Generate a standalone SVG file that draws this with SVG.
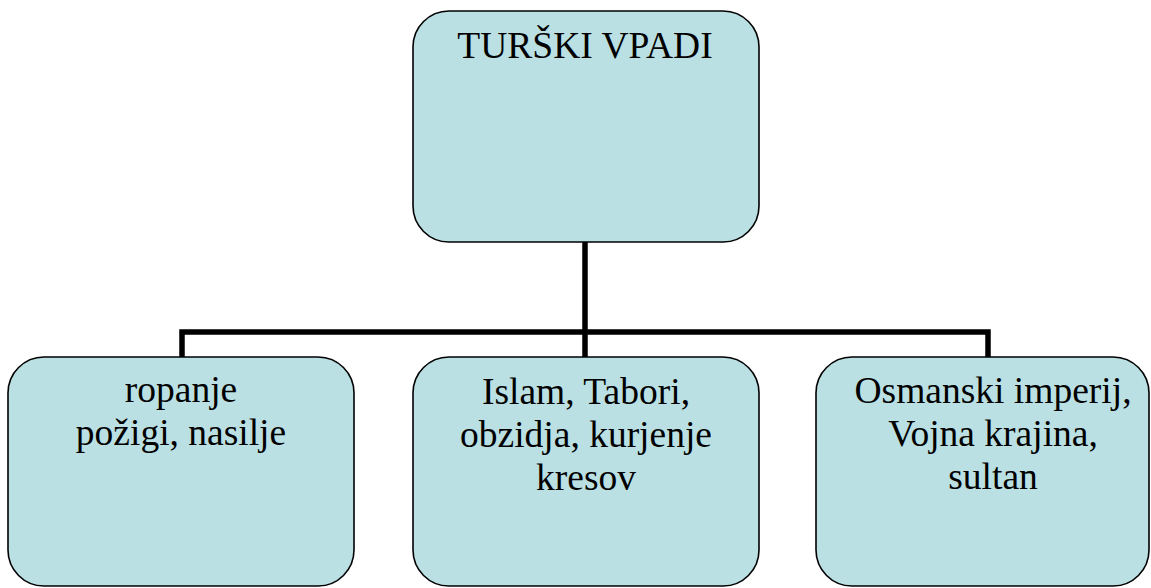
<svg xmlns="http://www.w3.org/2000/svg" width="1151" height="588" viewBox="0 0 1151 588">
<style>
.box{fill:#BAE0E3;stroke:#000;stroke-width:1.6}
.t{font-family:'Liberation Serif','Times New Roman',serif;font-size:37.5px;fill:#000;text-anchor:middle}
.c{fill:none;stroke:#000;stroke-width:5.5;stroke-linejoin:miter}
</style>
<rect width="1151" height="588" fill="#fff"/>
<g id="connectors">
<path class="c" d="M585,242 V357"/>
<path class="c" d="M182,357 V332 H988 V357"/>
</g>
<g id="root">
<rect class="box" x="413" y="11" width="346" height="231" rx="36" ry="36"/>
<text class="t" x="585" y="58">TURŠKI VPADI</text>
</g>
<g id="n1">
<rect class="box" x="8" y="357" width="346" height="229" rx="36" ry="36"/>
<text class="t" x="181" y="402">ropanje</text>
<text class="t" x="181" y="445">požigi, nasilje</text>
</g>
<g id="n2">
<rect class="box" x="413" y="357" width="346" height="229" rx="36" ry="36"/>
<text class="t" x="586" y="404">Islam, Tabori,</text>
<text class="t" x="586" y="447">obzidja, kurjenje</text>
<text class="t" x="586" y="490">kresov</text>
</g>
<g id="n3">
<rect class="box" x="816" y="357" width="333" height="229" rx="36" ry="36"/>
<text class="t" x="993" y="403">Osmanski imperij,</text>
<text class="t" x="993" y="446">Vojna krajina,</text>
<text class="t" x="993" y="489">sultan</text>
</g>
</svg>
